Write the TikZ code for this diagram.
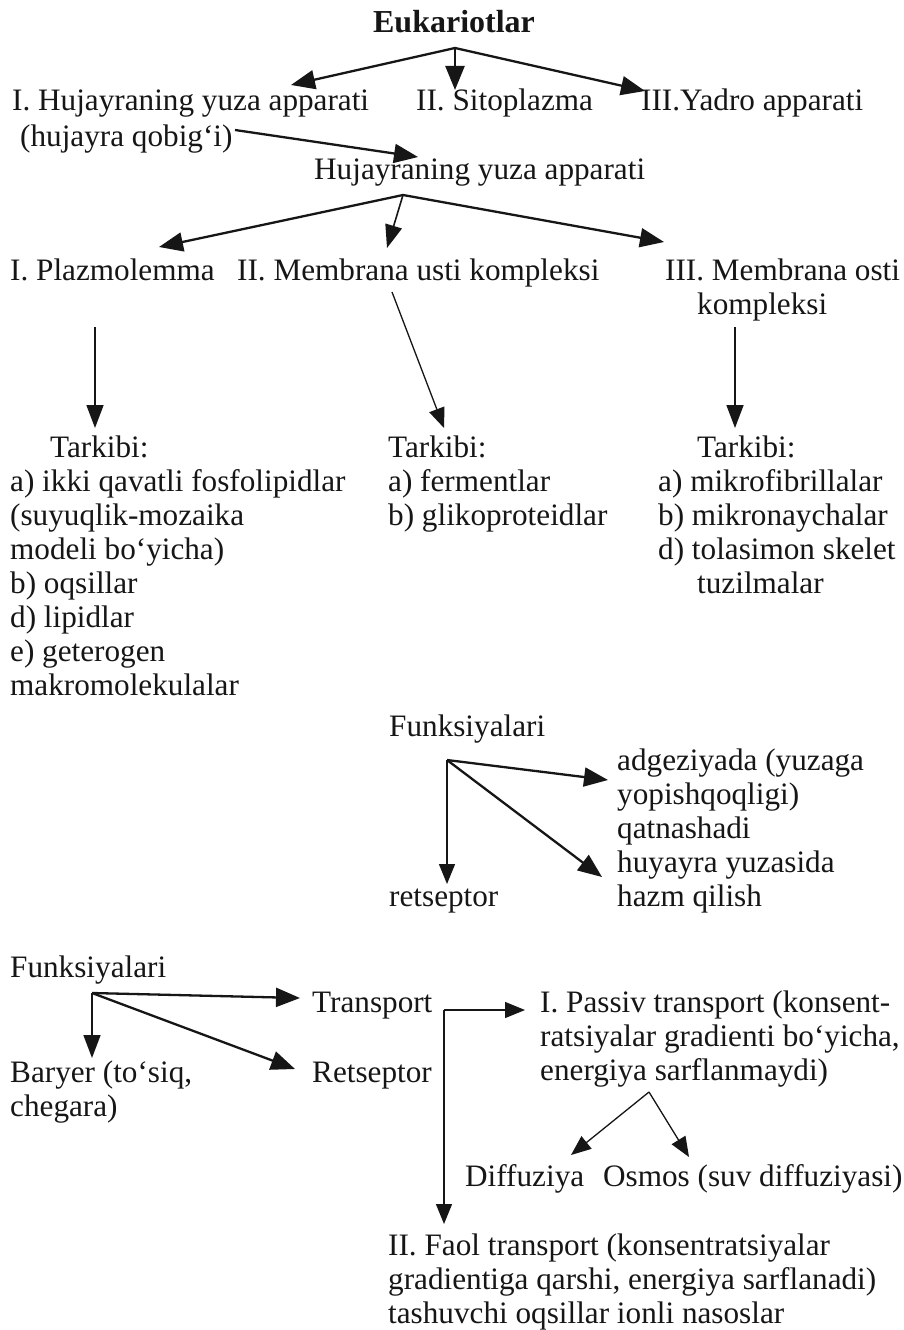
\documentclass[tikz,border=0pt]{standalone}
\usepackage{fontspec}
\setmainfont{Liberation Serif}
\usetikzlibrary{arrows.meta}
\definecolor{ink}{HTML}{161616}
\tikzset{
  txt/.style={font=\fontsize{31.2}{34}\selectfont, text=ink, inner sep=0pt, anchor=base west, align=left},
  ttl/.style={font=\fontsize{32}{34}\selectfont\bfseries, text=ink, inner sep=0pt, anchor=base},
  thickarr/.style={draw=ink, line width=2.3pt, -{Triangle[length=24pt,width=19pt]}},
  medarr/.style={draw=ink, line width=1.6pt, -{Triangle[length=23pt,width=17pt]}},
  thinarr/.style={draw=ink, line width=1.3pt, -{Triangle[length=20pt,width=16pt]}},
}
\begin{document}
\begin{tikzpicture}[x=1pt,y=-1pt]
\useasboundingbox[fill=white] (0,0) rectangle (904,1330);
% multi-line nodes are placed by the baseline of their last line
% ---- top level
\node[ttl] (euk) at (454,33) {Eukariotlar};
\node[txt] (s1) at (12,110) {I. Hujayraning yuza apparati};
\node[txt] (s2) at (416,110) {II. Sitoplazma};
\node[txt] (s3) at (641,110) {III.Yadro apparati};
\node[txt] (s1b) at (20,146) {(hujayra qobig‘i)};
\node[txt] (hya) at (314,179) {Hujayraning yuza apparati};
\coordinate (eukb) at (455,48);
\coordinate (s1t) at (291,85);
\coordinate (s2t) at (455,90);
\coordinate (s3t) at (645,91);
\draw[thickarr] (eukb) -- (s1t);
\draw[thickarr] (eukb) -- (s2t);
\draw[thickarr] (eukb) -- (s3t);
\coordinate (s1bs) at (235,130);
\coordinate (hyat) at (418,157);
\draw[thickarr] (s1bs) -- (hyat);
% ---- second level
\node[txt] (p1) at (10,280) {I. Plazmolemma};
\node[txt] (p2) at (237,280) {II. Membrana usti kompleksi};
\node[txt] (p3) at (665,314) {III. Membrana osti\\\hspace*{32pt}kompleksi};
\coordinate (hyab) at (403,195);
\coordinate (p1t) at (159,247);
\coordinate (p2t) at (387,248);
\coordinate (p3t) at (664,242);
\draw[thickarr] (hyab) -- (p1t);
\draw[medarr] (hyab) -- (p2t);
\draw[thickarr] (hyab) -- (p3t);
% ---- tarkibi
\node[txt] (t1h) at (50,457) {Tarkibi:};
\node[txt] (t1) at (10,695) {a) ikki qavatli fosfolipidlar\\(suyuqlik-mozaika\\modeli bo‘yicha)\\b) oqsillar\\d) lipidlar\\e) geterogen\\makromolekulalar};
\node[txt] (t2h) at (388,457) {Tarkibi:};
\node[txt] (t2) at (388,525) {a) fermentlar\\b) glikoproteidlar};
\node[txt] (t3h) at (697,457) {Tarkibi:};
\node[txt] (t3) at (658,593) {a) mikrofibrillalar\\b) mikronaychalar\\d) tolasimon skelet\\\hspace*{39pt}tuzilmalar};
\coordinate (p1s) at (95,327);
\coordinate (t1t) at (95,428);
\coordinate (p2s) at (392,292);
\coordinate (t2t) at (444,428);
\coordinate (p3s) at (735,327);
\coordinate (t3t) at (735,428);
\draw[medarr] (p1s) -- (t1t);
\draw[thinarr] (p2s) -- (t2t);
\draw[medarr] (p3s) -- (t3t);
% ---- funksiyalari (middle)
\node[txt] (f1) at (389,736) {Funksiyalari};
\node[txt] (adg) at (617,906) {adgeziyada (yuzaga\\yopishqoqligi)\\qatnashadi\\huyayra yuzasida\\hazm qilish};
\node[txt] (ret1) at (389,906) {retseptor};
\coordinate (f1o) at (447,760);
\coordinate (adgt) at (608,780);
\coordinate (ret1t) at (447,884);
\coordinate (hazt) at (602,877);
\draw[thickarr] (f1o) -- (adgt);
\draw[thinarr] (f1o) -- (ret1t);
\draw[thickarr] (f1o) -- (hazt);
% ---- funksiyalari (lower)
\node[txt] (f2) at (10,977) {Funksiyalari};
\node[txt] (tr) at (312,1012) {Transport};
\node[txt] (rt2) at (312,1082) {Retseptor};
\node[txt] (bar) at (10,1116) {Baryer (to‘siq,\\chegara)};
\coordinate (f2o) at (92,993);
\coordinate (bart) at (92,1058);
\coordinate (trt) at (300,998);
\coordinate (rt2t) at (295,1069);
\draw[medarr] (f2o) -- (bart);
\draw[thickarr] (f2o) -- (trt);
\draw[thickarr] (f2o) -- (rt2t);
% ---- transport
\node[txt] (pas) at (540,1080) {I. Passiv transport (konsent-\\ratsiyalar gradienti bo‘yicha,\\energiya sarflanmaydi)};
\node[txt] (dif) at (465,1186) {Diffuziya};
\node[txt] (osm) at (603,1186) {Osmos (suv diffuziyasi)};
\node[txt] (faol) at (388,1323) {II. Faol transport (konsentratsiyalar\\gradientiga qarshi, energiya sarflanadi)\\tashuvchi oqsillar ionli nasoslar};
\coordinate (trc) at (444,1010);
\coordinate (past) at (525,1010);
\coordinate (faolt) at (444,1224);
\draw[thinarr] (trc) -- (past);
\draw[thinarr] (trc) -- (faolt);
\coordinate (paso) at (649,1092);
\coordinate (dift) at (571,1155);
\coordinate (osmt) at (689,1157);
\draw[thinarr] (paso) -- (dift);
\draw[thinarr] (paso) -- (osmt);
\end{tikzpicture}
\end{document}
